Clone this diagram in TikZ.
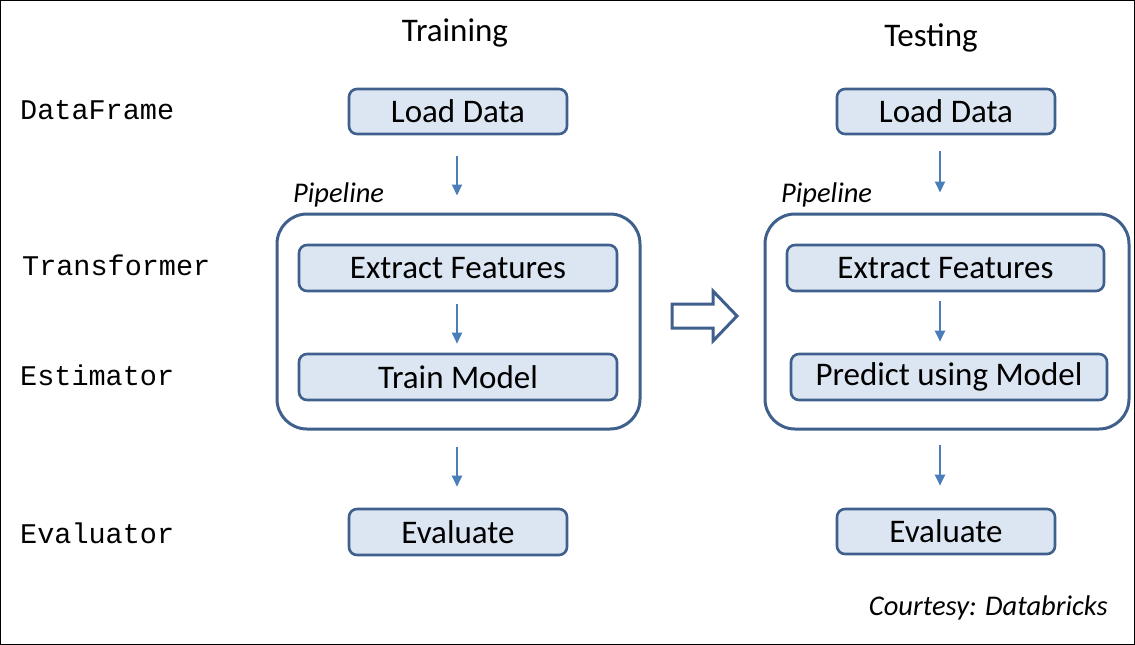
\documentclass[tikz,border=0pt]{standalone}
\usepackage{fontspec}
\setmainfont{Carlito}
\setmonofont{Liberation Mono}
\usetikzlibrary{arrows.meta}
\definecolor{boxfill}{HTML}{DCE6F2}
\definecolor{boxline}{HTML}{3F5F8C}
\definecolor{arrline}{HTML}{4A7EBB}
\tikzset{
  stepbox/.style={draw=boxline, line width=2.6pt, fill=boxfill, rounded corners=8pt,
    inner sep=0pt, font=\fontsize{33}{36}\selectfont, anchor=center},
  pipebox/.style={draw=boxline, line width=3pt, rounded corners=30pt, inner sep=0pt},
  arr/.style={draw=arrline, line width=2pt, -{Triangle[length=11pt,width=10pt]}},
  monolabel/.style={font=\ttfamily\fontsize{28.5}{31}\selectfont, anchor=west, inner sep=0pt},
  title/.style={font=\fontsize{33}{36}\selectfont, inner sep=0pt},
  pipelabel/.style={font=\itshape\fontsize{28.5}{31}\selectfont, anchor=west, inner sep=0pt},
}
\begin{document}
\begin{tikzpicture}[x=1pt,y=-1pt]
\useasboundingbox (0,0) rectangle (1135,645);
\draw[line width=1pt] (0.5,0.5) rectangle (1134.5,644.5);
% titles
\node[title] (t1) at (455,33) {Training};
\node[title] (t2) at (931,38) {Testing};
% left labels
\node[monolabel] (l1) at (20,110) {DataFrame};
\node[monolabel] (l2) at (22,265) {Transformer};
\node[monolabel] (l3) at (20,375) {Estimator};
\node[monolabel] (l4) at (20,533) {Evaluator};
% pipelines
\node[pipebox, minimum width=363pt, minimum height=215pt] (p1) at (458.5,321.5) {};
\node[pipebox, minimum width=364pt, minimum height=215pt] (p2) at (947,321.5) {};
\node[pipelabel] (pl1) at (293,195) {Pipeline};
\node[pipelabel] (pl2) at (781,195) {Pipeline};
% training column
\node[stepbox, minimum width=218pt, minimum height=45pt] (ld1) at (458,111.5) {Load Data};
\node[stepbox, minimum width=318pt, minimum height=46pt] (ef1) at (458,268) {Extract Features};
\node[stepbox, minimum width=318pt, minimum height=46pt] (tm1) at (458,377) {Train Model};
\node[stepbox, minimum width=218pt, minimum height=46pt] (ev1) at (458,532) {Evaluate};
% testing column
\node[stepbox, minimum width=218pt, minimum height=45pt] (ld2) at (946,111.5) {Load Data};
\node[stepbox, minimum width=317pt, minimum height=46pt] (ef2) at (945.5,268) {Extract Features};
\node[stepbox, minimum width=316pt, minimum height=46pt] (pm2) at (949,377) {Predict using Model};
\node[stepbox, minimum width=218pt, minimum height=45pt] (ev2) at (946,531.5) {Evaluate};
% arrows training
\draw[arr] ([xshift=-1pt,yshift=-21pt]ld1.south) -- ([xshift=-1.5pt,yshift=17pt]p1.north);
\draw[arr] ([xshift=-1pt,yshift=-12pt]ef1.south) -- ([xshift=-1pt,yshift=9pt]tm1.north);
\draw[arr] ([xshift=-1.5pt,yshift=-16pt]p1.south) -- ([xshift=-1pt,yshift=21pt]ev1.north);
% arrows testing
\draw[arr] ([xshift=-6pt,yshift=-16pt]ld2.south) -- ([xshift=-7pt,yshift=20pt]p2.north);
\draw[arr] ([xshift=-5.5pt,yshift=-9pt]ef2.south) -- ([xshift=-9pt,yshift=11pt]pm2.north);
\draw[arr] ([xshift=-7pt,yshift=-14pt]p2.south) -- ([xshift=-6pt,yshift=22pt]ev2.north);
% hollow arrow
\coordinate (ha) at (672,316);
\draw[draw=boxline, line width=3pt, line join=miter, fill=white]
  (ha) ++(0,-12) -- ++(41,0) -- ++(0,-13) -- ++(24,25) -- ++(-24,25) -- ++(0,-13) -- ++(-41,0) -- cycle;
% courtesy
\node[font=\itshape\fontsize{28.5}{31}\selectfont, anchor=east, inner sep=0pt] (c) at (1108,608) {Courtesy: Databricks};
\end{tikzpicture}
\end{document}
